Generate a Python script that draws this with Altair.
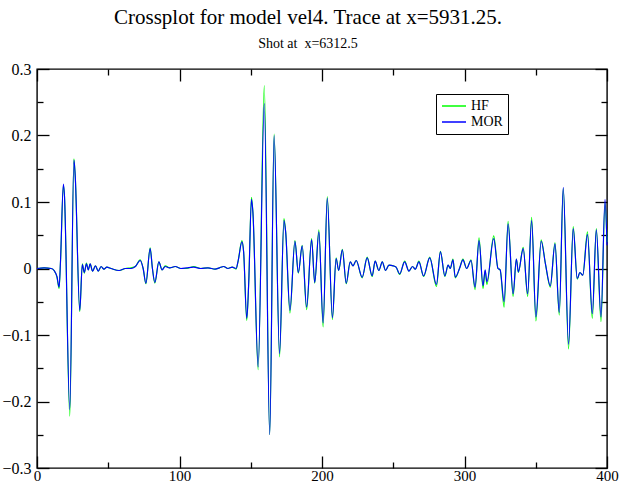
import altair as alt
import pandas as pd

# sample positions (shared by both traces)
xs = [0, 5, 10, 12, 14, 15.5, 16.5, 18.5, 19.2, 23, 25.9, 26.8, 30, 31.8, 33.2, 34.7, 36, 37.3, 39, 41,
      43, 45, 47, 49, 52, 57.6, 62, 66, 69, 72.4, 74.5, 76.4, 79.4, 81, 82.7, 85.5, 87.8, 90, 93, 97,
      101, 105, 110, 115, 120, 125, 128, 131, 134, 137, 139.7, 141.2, 143.8, 145, 147.2, 148.6, 150.5, 151.5, 155.2, 159.5,
      163.3, 166.4, 170.2, 173.3, 174.5, 177.5, 181, 183.4, 186.1, 189.2, 192.7, 194.9, 197.8, 200.8, 203.7, 207.3, 209.9, 211.7, 214.3, 217,
      219.8, 221.7, 224, 228.2, 231.7, 235.2, 237.3, 239.9, 242.3, 244.6, 247, 250, 252, 254.5, 258, 261, 263.5, 265.5, 268, 271.3,
      275.6, 280.3, 283.1, 286.2, 288.5, 290, 291.9, 293.5, 296.5, 298.9, 301.5, 304.6, 307.4, 310.2, 313, 314.5, 315.7, 320.5, 323.5, 325,
      327.8, 330.6, 334.1, 336.4, 337.8, 341.2, 344.3, 347.1, 350.1, 353.8, 356.8, 360.2, 363.5, 366.5, 369.3, 373, 376.3, 379.1, 381, 383,
      386.3, 389.7, 392.5, 395.8, 398.6, 400]

mor = [0.0, 0.001, 0.0, -0.003, -0.012, -0.028, 0.012, 0.127, 0.112, -0.212, 0.163, 0.14, -0.063, 0.006, -0.006, 0.007, -0.002, 0.007, -0.004, 0.004,
       -0.004, 0.003, -0.001, 0.002, 0.0, -0.003, 0.0, 0.0, 0.003, 0.012, 0.0, -0.022, 0.03, 0.0, -0.021, 0.01, -0.002, 0.003, 0.001, 0.003,
       0.0, 0.001, 0.002, 0.0, 0.001, -0.001, 0.001, 0.003, 0.0, 0.002, 0.0, 0.012, 0.04, 0.025, -0.075, -0.02, 0.104, 0.085, -0.148, 0.248,
       -0.25, 0.2, -0.128, 0.072, 0.055, -0.063, 0.041, -0.006, 0.034, -0.058, 0.043, -0.021, 0.055, -0.082, 0.106, -0.074, 0.015, -0.003, 0.028, -0.022,
       0.01, 0.004, 0.012, -0.013, 0.016, -0.011, 0.011, -0.003, 0.01, -0.003, 0.005, 0.004, 0.002, -0.008, 0.01, -0.004, 0.003, -0.001, 0.01, -0.011,
       0.016, -0.024, 0.025, -0.011, 0.005, 0.0, 0.013, -0.013, 0.0, 0.013, 0.0, 0.012, -0.028, 0.042, -0.026, -0.002, -0.02, 0.045, 0.0, -0.002,
       -0.05, 0.067, -0.038, 0.014, -0.005, 0.03, -0.038, 0.072, -0.073, 0.041, 0.007, -0.026, 0.037, -0.066, 0.122, -0.114, 0.06, -0.015, -0.006, -0.01,
       0.051, -0.068, 0.058, -0.073, 0.104, 0.035]

hf = [0.0, 0.001, 0.0, -0.003, -0.013, -0.03, 0.01, 0.125, 0.112, -0.222, 0.165, 0.14, -0.065, 0.007, -0.007, 0.008, -0.002, 0.007, -0.004, 0.004,
      -0.004, 0.003, -0.001, 0.002, 0.0, -0.003, 0.0, 0.001, 0.003, 0.013, 0.0, -0.023, 0.031, 0.0, -0.022, 0.01, -0.002, 0.004, 0.001, 0.003,
      0.0, 0.0, 0.003, 0.0, 0.001, -0.001, 0.001, 0.003, 0.0, 0.002, -0.001, 0.012, 0.042, 0.025, -0.078, -0.02, 0.107, 0.085, -0.152, 0.275,
      -0.25, 0.202, -0.133, 0.075, 0.055, -0.067, 0.042, -0.007, 0.035, -0.062, 0.045, -0.022, 0.058, -0.088, 0.108, -0.077, 0.016, -0.003, 0.029, -0.023,
      0.01, 0.004, 0.012, -0.014, 0.017, -0.012, 0.011, -0.003, 0.01, -0.003, 0.005, 0.004, 0.002, -0.009, 0.011, -0.004, 0.003, -0.001, 0.011, -0.012,
      0.017, -0.027, 0.026, -0.012, 0.005, 0.0, 0.014, -0.014, 0.0, 0.014, 0.0, 0.013, -0.032, 0.046, -0.03, -0.003, -0.024, 0.049, 0.0, -0.002,
      -0.058, 0.071, -0.042, 0.014, -0.006, 0.032, -0.042, 0.077, -0.079, 0.043, 0.007, -0.028, 0.039, -0.07, 0.12, -0.121, 0.063, -0.016, -0.006, -0.01,
      0.055, -0.075, 0.06, -0.08, 0.098, 0.04]

series_names = ["HF", "MOR"]
series_colors = ["#00ff00", "#0000ff"]

x_major = [0, 100, 200, 300, 400]
x_minor = [50, 150, 250, 350]
y_major = [-0.3, -0.2, -0.1, 0, 0.1, 0.2, 0.3]
y_minor = [-0.25, -0.15, -0.05, 0.05, 0.15, 0.25]

df = pd.DataFrame({
    "x": xs * 2,
    "y": hf + mor,
    "series": ["HF"] * len(xs) + ["MOR"] * len(xs),
})
frame_df = pd.DataFrame({"x": [0, 400], "y": [-0.3, 0.3]})

FONT = "Liberation Serif"
xscale = alt.Scale(domain=[0, 400], nice=False, zero=False)
yscale = alt.Scale(domain=[-0.3, 0.3], nice=False, zero=False)


def mk_axis(orient, values, size, labels, pad=0, fsize=16):
    kw = dict(
        orient=orient, values=values, tickSize=size, offset=-size, domain=False,
        grid=False, title=None, ticks=True, tickColor="black", tickWidth=1.3,
        labels=labels,
    )
    if labels:
        kw.update(labelFont=FONT, labelFontSize=fsize, labelColor="black",
                  labelPadding=pad, labelFlush=False, labelOverlap=False, labelBound=False,
                  labelExpr="datum.value == 0 ? '0' : format(datum.value, '.1f')" if orient in ("left", "right") else "format(datum.value, 'd')")
    return alt.Axis(**kw)


color = alt.Color(
    "series:N",
    scale=alt.Scale(domain=series_names, range=series_colors),
    legend=alt.Legend(
        title=None, orient="none", legendX=399, legendY=25,
        strokeColor="black", fillColor="white", padding=5,
        symbolType="M-1,0H3", symbolSize=144, symbolStrokeWidth=1.5,
        labelFont=FONT, labelFontSize=14, labelColor="black", labelOffset=16,
        labelExpr="datum.label + '\u00a0\u00a0\u00a0'",
        rowPadding=2,
    ),
)

base = alt.Chart(df).mark_line(interpolate="monotone", strokeWidth=1.15)
hf_line = base.transform_filter(alt.datum.series == "HF").encode(
    x=alt.X("x:Q", scale=xscale, axis=mk_axis("bottom", x_major, 12, True, 0, 15)),
    y=alt.Y("y:Q", scale=yscale, axis=mk_axis("left", y_major, 12, True, 6, 16)),
    color=color,
)
mor_line = base.transform_filter(alt.datum.series == "MOR").encode(
    x=alt.X("x:Q", scale=xscale, axis=None),
    y=alt.Y("y:Q", scale=yscale, axis=None),
    color=color,
)

dummy = alt.Chart(frame_df).mark_point(opacity=0)
minor_bl = dummy.encode(
    x=alt.X("x:Q", scale=xscale, axis=mk_axis("bottom", x_minor, 6, False)),
    y=alt.Y("y:Q", scale=yscale, axis=mk_axis("left", y_minor, 6, False)),
)
major_tr = dummy.encode(
    x=alt.X("x:Q", scale=xscale, axis=mk_axis("top", x_major, 12, False)),
    y=alt.Y("y:Q", scale=yscale, axis=mk_axis("right", y_major, 12, False)),
)
minor_tr = dummy.encode(
    x=alt.X("x:Q", scale=xscale, axis=mk_axis("top", x_minor, 6, False)),
    y=alt.Y("y:Q", scale=yscale, axis=mk_axis("right", y_minor, 6, False)),
)

chart = alt.layer(hf_line, mor_line, minor_bl, major_tr, minor_tr).resolve_axis(
    x="independent", y="independent"
).properties(
    width=570, height=399,
    autosize=alt.AutoSizeParams(type="none"),
    padding={"left": 37, "top": 69, "right": 14, "bottom": 15},
    background="white",
    title=alt.TitleParams(
        text="Crossplot for model vel4. Trace at x=5931.25.",
        subtitle="Shot at\u00a0 x=6312.5",
        font=FONT, fontSize=21, fontWeight="normal", color="black",
        subtitleFont=FONT, subtitleFontSize=14, subtitleColor="black",
        anchor="middle", offset=10, dx=-14, subtitlePadding=9,
    ),
).configure_view(stroke="black", strokeWidth=1.4)

chart.save("out.html", embed_options={"renderer": "svg", "actions": False})
